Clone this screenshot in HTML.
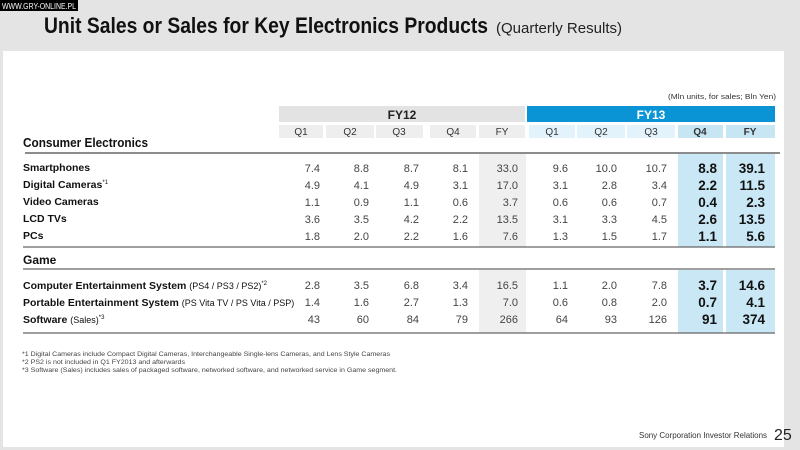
<!DOCTYPE html>
<html><head><meta charset="utf-8"><style>
html,body{margin:0;padding:0;background:#e6e6e6}
svg{display:block}
text{font-family:"Liberation Sans",Arial,sans-serif}
</style></head><body>
<svg width="800" height="450" viewBox="0 0 800 450" xmlns="http://www.w3.org/2000/svg">
<rect x="0" y="0" width="800" height="450" fill="#e4e4e4"/>
<rect x="3" y="51" width="781" height="396" fill="#ffffff"/>
<rect x="0" y="0" width="78" height="11" fill="#000"/>
<text x="2" y="9" font-size="8" fill="#fff" textLength="74" lengthAdjust="spacingAndGlyphs">WWW.GRY-ONLINE.PL</text>
<text x="44" y="33" font-size="22" font-weight="bold" fill="#111" textLength="444" lengthAdjust="spacingAndGlyphs">Unit Sales or Sales for Key Electronics Products</text>
<text x="496" y="33" font-size="15" fill="#222" textLength="126" lengthAdjust="spacingAndGlyphs">(Quarterly Results)</text>
<text x="776" y="99" font-size="7.5" fill="#333" text-anchor="end" textLength="108" lengthAdjust="spacingAndGlyphs">(Mln units, for sales; Bln Yen)</text>
<!-- header -->
<rect x="279" y="106" width="246" height="16" fill="#e3e3e3"/>
<rect x="527" y="106" width="248" height="16" fill="#0a94d6"/>
<text x="402" y="119" font-size="12" font-weight="bold" fill="#222" text-anchor="middle">FY12</text>
<text x="651" y="119" font-size="12" font-weight="bold" fill="#fff" text-anchor="middle">FY13</text>
<g font-size="10" fill="#333" text-anchor="middle">
<rect x="279" y="125" width="44" height="13" fill="#eeeeee"/>
<rect x="326" y="125" width="48" height="13" fill="#eeeeee"/>
<rect x="376" y="125" width="47" height="13" fill="#eeeeee"/>
<rect x="430" y="125" width="46" height="13" fill="#eeeeee"/>
<rect x="479" y="125" width="46" height="13" fill="#eeeeee"/>
<rect x="529" y="125" width="46" height="13" fill="#e3f3fb"/>
<rect x="577" y="125" width="48" height="13" fill="#e3f3fb"/>
<rect x="627" y="125" width="48" height="13" fill="#e3f3fb"/>
<rect x="678" y="125" width="45" height="13" fill="#c7e6f4"/>
<rect x="726" y="125" width="49" height="13" fill="#c7e6f4"/>
<text x="301" y="135">Q1</text><text x="350" y="135">Q2</text><text x="399" y="135">Q3</text><text x="453" y="135">Q4</text><text x="502" y="135">FY</text>
<text x="552" y="135">Q1</text><text x="601" y="135">Q2</text><text x="651" y="135">Q3</text>
<text x="700" y="135" font-weight="bold">Q4</text><text x="750" y="135" font-weight="bold">FY</text>
</g>
<text x="23" y="147" font-size="13" font-weight="bold" fill="#111" textLength="125" lengthAdjust="spacingAndGlyphs">Consumer Electronics</text>
<!-- column backgrounds -->
<rect x="479" y="154" width="47" height="93" fill="#efefef"/>
<rect x="678" y="154" width="45" height="93" fill="#c9e7f5"/>
<rect x="726" y="154" width="49" height="93" fill="#c9e7f5"/>
<rect x="479" y="270" width="47" height="63" fill="#efefef"/>
<rect x="678" y="270" width="45" height="63" fill="#c9e7f5"/>
<rect x="726" y="270" width="49" height="63" fill="#c9e7f5"/>
<line x1="25" y1="153" x2="780" y2="153" stroke="#666" stroke-width="1.5"/>
<line x1="23" y1="247" x2="775" y2="247" stroke="#666" stroke-width="1.2"/>
<line x1="23" y1="269" x2="775" y2="269" stroke="#666" stroke-width="1.2"/>
<line x1="23" y1="333" x2="775" y2="333" stroke="#666" stroke-width="1.2"/>
<text x="23" y="264" font-size="12" font-weight="bold" fill="#111">Game</text>
<g font-size="10.5" font-weight="bold" fill="#111">
<text x="23" y="171">Smartphones</text>
<text x="23" y="188">Digital Cameras<tspan font-size="6" dy="-4" font-weight="normal">*1</tspan></text>
<text x="23" y="205">Video Cameras</text>
<text x="23" y="222">LCD TVs</text>
<text x="23" y="239">PCs</text>
<text x="23" y="289">Computer Entertainment System <tspan font-weight="normal" font-size="9">(PS4 / PS3 / PS2)</tspan><tspan font-size="6" dy="-4" font-weight="normal">*2</tspan></text>
<text x="23" y="306">Portable Entertainment System <tspan font-weight="normal" font-size="9">(PS Vita TV / PS Vita / PSP)</tspan></text>
<text x="23" y="323">Software <tspan font-weight="normal" font-size="9">(Sales)</tspan><tspan font-size="6" dy="-4" font-weight="normal">*3</tspan></text>
</g>
<g font-size="11" fill="#444" text-anchor="end">
<g transform="translate(0,172)">
<text x="320">7.4</text><text x="369">8.8</text><text x="419">8.7</text><text x="468">8.1</text><text x="518">33.0</text><text x="568">9.6</text><text x="617">10.0</text><text x="667">10.7</text></g>
<g transform="translate(0,189)">
<text x="320">4.9</text><text x="369">4.1</text><text x="419">4.9</text><text x="468">3.1</text><text x="518">17.0</text><text x="568">3.1</text><text x="617">2.8</text><text x="667">3.4</text></g>
<g transform="translate(0,206)">
<text x="320">1.1</text><text x="369">0.9</text><text x="419">1.1</text><text x="468">0.6</text><text x="518">3.7</text><text x="568">0.6</text><text x="617">0.6</text><text x="667">0.7</text></g>
<g transform="translate(0,223)">
<text x="320">3.6</text><text x="369">3.5</text><text x="419">4.2</text><text x="468">2.2</text><text x="518">13.5</text><text x="568">3.1</text><text x="617">3.3</text><text x="667">4.5</text></g>
<g transform="translate(0,240)">
<text x="320">1.8</text><text x="369">2.0</text><text x="419">2.2</text><text x="468">1.6</text><text x="518">7.6</text><text x="568">1.3</text><text x="617">1.5</text><text x="667">1.7</text></g>
<g transform="translate(0,289)">
<text x="320">2.8</text><text x="369">3.5</text><text x="419">6.8</text><text x="468">3.4</text><text x="518">16.5</text><text x="568">1.1</text><text x="617">2.0</text><text x="667">7.8</text></g>
<g transform="translate(0,306)">
<text x="320">1.4</text><text x="369">1.6</text><text x="419">2.7</text><text x="468">1.3</text><text x="518">7.0</text><text x="568">0.6</text><text x="617">0.8</text><text x="667">2.0</text></g>
<g transform="translate(0,323)">
<text x="320">43</text><text x="369">60</text><text x="419">84</text><text x="468">79</text><text x="518">266</text><text x="568">64</text><text x="617">93</text><text x="667">126</text></g>
</g>
<g font-size="13.5" font-weight="bold" fill="#111" text-anchor="end">
<text x="717" y="173">8.8</text><text x="765" y="173">39.1</text>
<text x="717" y="190">2.2</text><text x="765" y="190">11.5</text>
<text x="717" y="207">0.4</text><text x="765" y="207">2.3</text>
<text x="717" y="224">2.6</text><text x="765" y="224">13.5</text>
<text x="717" y="241">1.1</text><text x="765" y="241">5.6</text>
<text x="717" y="290">3.7</text><text x="765" y="290">14.6</text>
<text x="717" y="307">0.7</text><text x="765" y="307">4.1</text>
<text x="717" y="324">91</text><text x="765" y="324">374</text>
</g>
<g font-size="6.5" fill="#444">
<text x="22" y="356" textLength="368" lengthAdjust="spacingAndGlyphs">*1 Digital Cameras include Compact Digital Cameras, Interchangeable Single-lens Cameras, and Lens Style Cameras</text>
<text x="22" y="364" textLength="163" lengthAdjust="spacingAndGlyphs">*2 PS2 is not included in Q1 FY2013 and afterwards</text>
<text x="22" y="372" textLength="375" lengthAdjust="spacingAndGlyphs">*3 Software (Sales) includes sales of packaged software, networked software, and networked service in Game segment.</text>
</g>
<text x="639" y="438" font-size="8" fill="#333" textLength="128" lengthAdjust="spacingAndGlyphs">Sony Corporation Investor Relations</text>
<text x="774" y="440" font-size="16" fill="#222">25</text>
</svg>
</body></html>
